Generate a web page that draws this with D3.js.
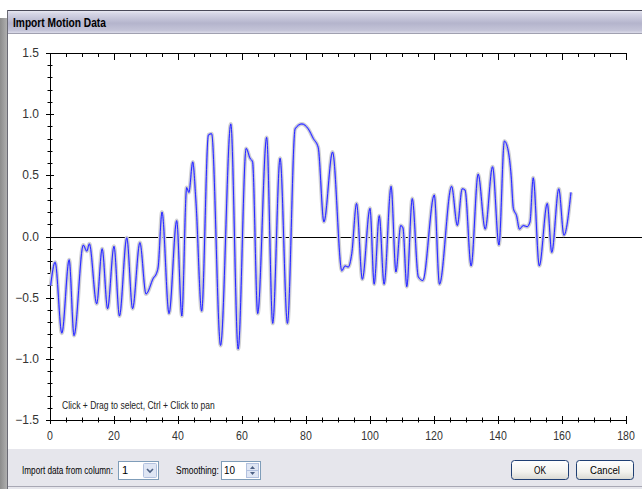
<!DOCTYPE html>
<html>
<head>
<meta charset="utf-8">
<script src="https://cdn.jsdelivr.net/npm/d3@7"></script>
<style>
  body { margin: 0; background: #fff; overflow: hidden; }
  svg { display: block; }
</style>
</head>
<body>
<svg id="chart" width="642" height="489"></svg>
<script>
// smoothed motion trace (time, value)
const motionT = [0.2, 1.6, 3.7, 6.0, 7.5, 10.4, 11.5, 12.3, 14.6, 16.3, 18.0, 20.0, 21.7, 24.0, 25.8, 28.1, 30.0,
  32.3, 33.3, 33.8, 35.0, 37.2, 39.6, 41.2, 42.7, 43.4, 44.6, 45.6, 47.4, 49.5, 50.5, 53.3, 56.5, 58.8,
  61.3, 62.5, 63.3, 64.9, 67.7, 69.6, 71.9, 74.2, 76.6, 78.7, 80.7, 82.3, 83.8, 85.6, 88.3, 91.2, 92.2,
  93.2, 94.3, 95.8, 97.6, 100.0, 101.3, 102.9, 104.4, 106.6, 108.1, 109.6, 110.3, 111.5, 113.2, 115.1,
  116.5, 120.1, 121.7, 125.5, 127.3, 128.8, 129.7, 131.6, 133.8, 136.0, 138.3, 140.3, 142.0, 143.2,
  144.1, 144.8, 145.8, 146.7, 147.9, 149.1, 150.0, 151.0, 152.9, 155.4, 156.8, 159.0, 160.6, 162.8];
const motionV = [-0.40, -0.21, -0.79, -0.19, -0.81, -0.07, -0.12, -0.06, -0.55, -0.10, -0.59, -0.08, -0.65, -0.01, -0.59, -0.05, -0.47,
  -0.34, -0.30, -0.25, 0.20, -0.63, 0.13, -0.65, 0.40, 0.36, 0.61, 0.29, -0.61, 0.83, 0.84, -0.89, 0.92, -0.92,
  0.72, 0.64, 0.61, -0.63, 0.81, -0.71, 0.64, -0.71, 0.88, 0.92, 0.88, 0.80, 0.73, 0.12, 0.69, -0.28, -0.24,
  -0.25, -0.14, 0.27, -0.35, 0.23, -0.39, 0.17, -0.39, 0.41, -0.29, 0.09, 0.07, -0.41, 0.31, -0.33,
  -0.36, 0.34, -0.39, 0.41, 0.09, 0.39, 0.38, -0.24, 0.51, 0.06, 0.57, -0.07, 0.78, 0.70,
  0.50, 0.23, 0.17, 0.06, 0.09, 0.08, 0.12, 0.48, -0.24, 0.27, -0.13, 0.39, 0.01, 0.36];

const xTicks = [0, 20, 40, 60, 80, 100, 120, 140, 160, 180];
const yTicks = [-1.5, -1.0, -0.5, 0.0, 0.5, 1.0, 1.5];
const xMinorStep = 5;
const yMinorStep = 0.1;

const titleText = 'Import Motion Data';
const hintText = 'Click + Drag to select, Ctrl + Click to pan';
const columnLabel = 'Import data from column:';
const columnValue = '1';
const smoothingLabel = 'Smoothing:';
const smoothingValue = '10';

const svg = d3.select('#chart');
const uiFont = '"Liberation Sans", Arial, sans-serif';
const axisFont = '"Liberation Sans", Arial, sans-serif';

// narrow dialog font: squeeze a start-anchored text to width w
function fitText(sel, w) {
  const x0 = +sel.attr('x');
  const s = w / sel.node().getComputedTextLength();
  return sel.attr('transform', `translate(${x0 * (1 - s)},0) scale(${s},1)`);
}

const defs = svg.append('defs');
const tg = defs.append('linearGradient').attr('id', 'titleGrad').attr('x1', 0).attr('y1', 0).attr('x2', 0).attr('y2', 1);
[['0', '#eeeef6'], ['0.15', '#d6d6e6'], ['0.55', '#b4b4cc'], ['0.85', '#c4c4d8'], ['1', '#e4e4f0']]
  .forEach(([o, c]) => tg.append('stop').attr('offset', o).attr('stop-color', c));
const bg = defs.append('linearGradient').attr('id', 'btnGrad').attr('x1', 0).attr('y1', 0).attr('x2', 0).attr('y2', 1);
[['0', '#ffffff'], ['0.6', '#f2f2ee'], ['1', '#d8d8d2']]
  .forEach(([o, c]) => bg.append('stop').attr('offset', o).attr('stop-color', c));
const lg = defs.append('linearGradient').attr('id', 'leftGrad').attr('x1', 0).attr('y1', 0).attr('x2', 1).attr('y2', 0);
[['0', '#8c8c8c'], ['1', '#b4b4b4']]
  .forEach(([o, c]) => lg.append('stop').attr('offset', o).attr('stop-color', c));

// window chrome
svg.append('rect').attr('x', 0).attr('y', 18).attr('width', 8).attr('height', 471).attr('fill', 'url(#leftGrad)');
svg.append('rect').attr('x', 7).attr('y', 10).attr('width', 635).attr('height', 24).attr('fill', 'url(#titleGrad)');
svg.append('line').attr('x1', 7).attr('x2', 642).attr('y1', 10.5).attr('y2', 10.5).attr('stroke', '#4a4a5a');
svg.append('line').attr('x1', 7.5).attr('x2', 7.5).attr('y1', 10).attr('y2', 489).attr('stroke', '#6a6a74');
fitText(svg.append('text').attr('x', 13).attr('y', 27).attr('font-family', uiFont).attr('font-weight', 'bold')
  .attr('font-size', 12).attr('fill', '#000').text(titleText), 93);

svg.append('rect').attr('x', 8).attr('y', 33).attr('width', 634).attr('height', 416).attr('fill', '#fff');
svg.append('line').attr('x1', 8).attr('x2', 642).attr('y1', 33.5).attr('y2', 33.5).attr('stroke', '#a0a0b0');
svg.append('rect').attr('x', 8).attr('y', 449).attr('width', 634).attr('height', 40).attr('fill', '#e6e6ec');
svg.append('line').attr('x1', 8).attr('x2', 642).attr('y1', 486.5).attr('y2', 486.5).attr('stroke', '#a8a8b4');

// plot
const x = d3.scaleLinear().domain([0, 180]).range([50, 626]);
const y = d3.scaleLinear().domain([-1.5, 1.5]).range([420, 53]);

const xMinor = d3.range(0, 180 + 0.001, xMinorStep);
const yMinor = d3.range(-1.5, 1.5 + 0.001, yMinorStep).map(v => +v.toFixed(2));

const axes = svg.append('g').attr('stroke', '#000').attr('stroke-width', 1);
axes.append('line').attr('x1', x(0)).attr('x2', x(180)).attr('y1', y(-1.5) + 0.5).attr('y2', y(-1.5) + 0.5);
axes.append('line').attr('x1', x(0)).attr('x2', x(180)).attr('y1', y(1.5) + 0.5).attr('y2', y(1.5) + 0.5);
axes.append('line').attr('x1', x(0) + 0.5).attr('x2', x(0) + 0.5).attr('y1', y(1.5)).attr('y2', y(-1.5));

axes.selectAll('.xt').data(xMinor).join('line')
  .attr('x1', d => Math.round(x(d)) + 0.5).attr('x2', d => Math.round(x(d)) + 0.5)
  .attr('y1', d => y(-1.5) - (d % 20 === 0 ? 4 : 2.5)).attr('y2', d => y(-1.5) + (d % 20 === 0 ? 4 : 2.5));
axes.selectAll('.xtt').data(xMinor).join('line')
  .attr('x1', d => Math.round(x(d)) + 0.5).attr('x2', d => Math.round(x(d)) + 0.5)
  .attr('y1', y(1.5)).attr('y2', d => y(1.5) + (d % 20 === 0 ? 7 : 4));
axes.selectAll('.yt').data(yMinor).join('line')
  .attr('y1', d => Math.round(y(d)) + 0.5).attr('y2', d => Math.round(y(d)) + 0.5)
  .attr('x1', d => x(0) - (Math.abs(d * 2 - Math.round(d * 2)) < 1e-6 ? 4 : 2.5))
  .attr('x2', d => x(0) + (Math.abs(d * 2 - Math.round(d * 2)) < 1e-6 ? 4 : 2.5));

svg.append('g').selectAll('text').data(xTicks).join('text')
  .attr('x', d => x(d)).attr('y', 440).attr('text-anchor', 'middle')
  .attr('font-family', axisFont).attr('font-size', 12).attr('fill', '#333')
  .attr('transform', d => `translate(${x(d) * 0.12},0) scale(0.88,1)`)
  .text(d => d);
svg.append('g').selectAll('text').data(yTicks).join('text')
  .attr('x', 39).attr('y', d => y(d) + 4).attr('text-anchor', 'end')
  .attr('font-family', axisFont).attr('font-size', 12).attr('fill', '#333')
  .text(d => d3.format('.1f')(d));

// zero line
svg.append('line').attr('x1', x(0)).attr('x2', 642).attr('y1', Math.round(y(0)) + 0.5).attr('y2', Math.round(y(0)) + 0.5)
  .attr('stroke', '#000').attr('stroke-width', 1);

const pts = motionT.map((t, i) => [t, motionV[i]]);
const line = d3.line().x(d => x(d[0])).y(d => y(d[1])).curve(d3.curveMonotoneX);

svg.append('path').attr('d', line(pts)).attr('fill', 'none')
  .attr('stroke', '#d2d2d2').attr('stroke-width', 4).attr('stroke-linejoin', 'round');
svg.append('path').attr('d', line(pts)).attr('fill', 'none')
  .attr('stroke', '#a0a0ff').attr('stroke-width', 1.8).attr('stroke-linejoin', 'round');
svg.append('path').attr('d', line(pts)).attr('fill', 'none')
  .attr('stroke', '#1a1aff').attr('stroke-width', 0.9).attr('stroke-linejoin', 'round');

fitText(svg.append('text').attr('x', 62).attr('y', 409).attr('font-family', uiFont)
  .attr('font-size', 11).attr('fill', '#222').text(hintText), 153);

// bottom controls
const ui = svg.append('g').attr('font-family', uiFont).attr('font-size', 11).attr('fill', '#000');
fitText(ui.append('text').attr('x', 22).attr('y', 474).text(columnLabel), 91);
ui.append('rect').attr('x', 118.5).attr('y', 461.5).attr('width', 40).attr('height', 18)
  .attr('fill', '#fff').attr('stroke', '#7f9db9');
ui.append('text').attr('x', 122).attr('y', 474).text(columnValue);
ui.append('rect').attr('x', 143.5).attr('y', 463.5).attr('width', 13).attr('height', 14)
  .attr('fill', '#dfe6f4').attr('stroke', '#b2c1df').attr('rx', 1);
ui.append('path').attr('d', 'M147,469 L150,472 L153,469').attr('fill', 'none').attr('stroke', '#4d6185').attr('stroke-width', 1.6);

fitText(ui.append('text').attr('x', 176).attr('y', 474).text(smoothingLabel), 43);
ui.append('rect').attr('x', 221.5).attr('y', 461.5).attr('width', 39).attr('height', 18)
  .attr('fill', '#fff').attr('stroke', '#7f9db9');
fitText(ui.append('text').attr('x', 224).attr('y', 474).text(smoothingValue), 11);
ui.append('rect').attr('x', 246.5).attr('y', 463.5).attr('width', 12).attr('height', 7)
  .attr('fill', '#dfe6f4').attr('stroke', '#b2c1df');
ui.append('rect').attr('x', 246.5).attr('y', 470.5).attr('width', 12).attr('height', 7)
  .attr('fill', '#dfe6f4').attr('stroke', '#b2c1df');
ui.append('path').attr('d', 'M250,469 L252.5,466 L255,469 Z').attr('fill', '#4d6185');
ui.append('path').attr('d', 'M250,472 L252.5,475 L255,472 Z').attr('fill', '#4d6185');

[[511, 57, 'OK', 12], [576, 57, 'Cancel', 30]].forEach(([bx, bw, label, tw]) => {
  ui.append('rect').attr('x', bx + 0.5).attr('y', 460.5).attr('width', bw).attr('height', 19).attr('rx', 3)
    .attr('fill', 'url(#btnGrad)').attr('stroke', '#1f3f73');
  fitText(ui.append('text').attr('x', bx + bw / 2 + 0.5 - tw / 2).attr('y', 474).text(label), tw);
});
</script>
</body>
</html>
